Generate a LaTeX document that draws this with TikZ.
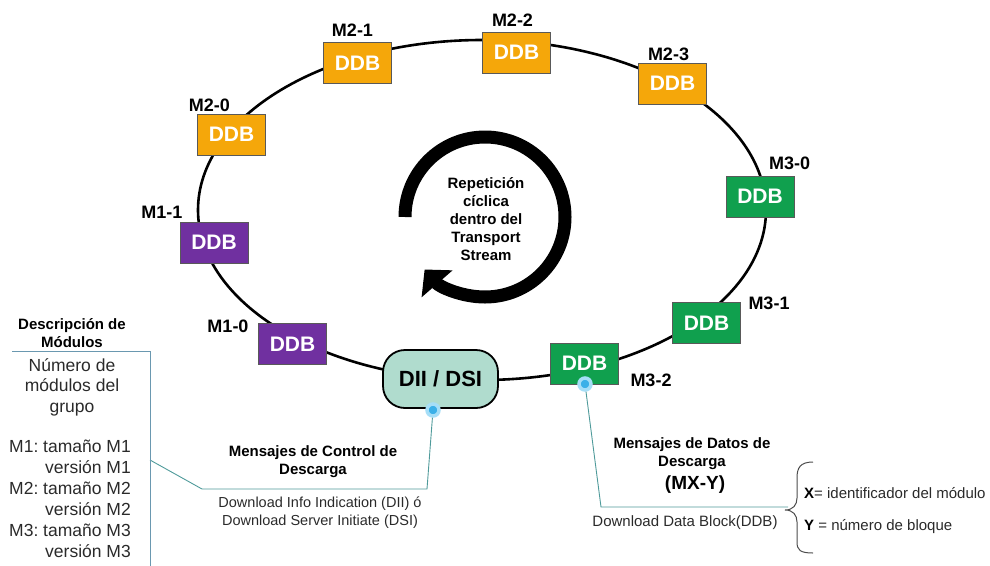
\documentclass[tikz,border=0pt]{standalone}
\usepackage{fontspec}
\setmainfont{Liberation Sans}
\usetikzlibrary{arrows.meta}
\definecolor{ddborange}{HTML}{F5A70A}
\definecolor{ddbpurple}{HTML}{7030A0}
\definecolor{ddbgreen}{HTML}{10A04E}
\definecolor{diifill}{HTML}{B0DCCE}
\definecolor{linkteal}{HTML}{4E9A9A}
\definecolor{panelline}{HTML}{6A98B0}
\definecolor{dotouter}{HTML}{A6DEF7}
\definecolor{dotinner}{HTML}{3BB0E8}
\definecolor{softtext}{HTML}{2A2A2A}
\begin{document}
\frenchspacing
\begin{tikzpicture}[x=1pt,y=-1pt,
  ddb/.style={draw=black!65, line width=0.8pt, minimum width=68pt, minimum height=41pt, inner sep=0pt, text=white, font=\fontsize{21}{24}\selectfont\bfseries},
  mlabel/.style={font=\fontsize{18}{20}\selectfont\bfseries, inner sep=0pt},
  boldcap/.style={font=\fontsize{15}{18}\selectfont\bfseries, align=center, inner sep=0pt},
  plain/.style={font=\fontsize{14.5}{18.5}\selectfont, text=softtext, align=center, inner sep=0pt},
  bluedot/.style={circle, draw=dotouter, line width=3.5pt, fill=dotinner, minimum size=12pt, inner sep=0pt},
  link/.style={draw=linkteal, line width=0.9pt},
  panel/.style={draw=panelline, line width=0.9pt}
]
\useasboundingbox (0,0) rectangle (990,565);
% cycle ring
\draw[line width=2.6pt] (482,210) ellipse [x radius=284, y radius=170];
% circular arrow
\draw[line width=13pt, -{Triangle[width=40pt,length=19pt]}] (405,217) arc[start angle=180, end angle=499, radius=80];
\node[boldcap] (rep) at (486,219) {Repetición\\cíclica\\dentro del\\Transport\\Stream};
% DDB boxes
\node[ddb, fill=ddborange] (m20) at (231.5,134.5) {DDB};
\node[ddb, fill=ddborange] (m21) at (357.5,63) {DDB};
\node[ddb, fill=ddborange] (m22) at (516.5,52.5) {DDB};
\node[ddb, fill=ddborange] (m23) at (672.5,83.5) {DDB};
\node[ddb, fill=ddbgreen] (m30) at (760,196.5) {DDB};
\node[ddb, fill=ddbgreen] (m31) at (706.5,323) {DDB};
\node[ddb, fill=ddbgreen] (m32) at (584.5,363.5) {DDB};
\node[ddb, fill=ddbpurple] (m11) at (214,242.5) {DDB};
\node[ddb, fill=ddbpurple] (m10) at (292.5,344) {DDB};
\node[draw=black, line width=1.8pt, fill=diifill, rounded corners=22pt, minimum width=115pt, minimum height=58pt, inner sep=0pt, font=\fontsize{22}{24}\selectfont\bfseries] (dii) at (440.5,379) {DII / DSI};
% labels
\node[mlabel] (l20) at (209.5,105) {M2-0};
\node[mlabel] (l21) at (352.5,30) {M2-1};
\node[mlabel] (l22) at (512.5,20) {M2-2};
\node[mlabel] (l23) at (668.5,54) {M2-3};
\node[mlabel] (l30) at (789.5,163) {M3-0};
\node[mlabel] (l31) at (769,303) {M3-1};
\node[mlabel] (l32) at (651,380) {M3-2};
\node[mlabel] (l11) at (162,212) {M1-1};
\node[mlabel] (l10) at (228,326) {M1-0};
% dots
\node[bluedot] (dotA) at (433,410) {};
\node[bluedot] (dotB) at (585,384) {};
% control messages connector
\coordinate (a1) at (427,489);
\coordinate (a2) at (202,489);
\coordinate (a3) at (150,460);
\draw[link] (dotA) -- (a1) -- (a2) -- (a3);
% module description panel
\coordinate (p0) at (12,351);
\coordinate (p1) at (150,351);
\coordinate (p2) at (150,566);
\draw[panel] (p0) -- (p1) -- (p2);
% data messages connector
\coordinate (b1) at (601,507);
\coordinate (b2) at (788,507);
\draw[link] (dotB) -- (b1) -- (b2);
% brace
\draw[line width=1pt, black!70] (813,462) .. controls (800,462) and (797,468) .. (797,478) -- (797,498) .. controls (797,505) and (793,510) .. (785,510) .. controls (793,510) and (797,515) .. (797,522) -- (797,542) .. controls (797,550) and (800,553) .. (813,553);
% texts
\node[boldcap] (desc) at (72,333.5) {Descripción de\\Módulos};
\node[font=\fontsize{17.5}{20.5}\selectfont, align=center, inner sep=0pt, text=softtext] (num) at (72,387) {Número de\\módulos del\\grupo};
\node[font=\fontsize{17.5}{21}\selectfont, align=right, inner sep=0pt, anchor=north east, text=softtext] (mods) at (131,440) {M1: tamaño M1\\versión M1\\M2: tamaño M2\\versión M2\\M3: tamaño M3\\versión M3};
\node[boldcap] (ctrl) at (313,462) {Mensajes de Control de\\Descarga};
\node[plain] (dlinfo) at (320,512.5) {Download Info Indication (DII) ó\\Download Server Initiate (DSI)};
\node[boldcap] (datos) at (692,454) {Mensajes de Datos de\\Descarga};
\node[font=\fontsize{19}{22}\selectfont\bfseries, inner sep=0pt] (mxy) at (695,485) {(MX-Y)};
\node[plain, font=\fontsize{15}{18}\selectfont] (ddbtxt) at (685,523) {Download Data Block(DDB)};
\node[plain, anchor=west, font=\fontsize{15}{18}\selectfont] (xdef) at (804,493) {\textbf{\color{black}X}= identificador del módulo};
\node[plain, anchor=west, font=\fontsize{15}{18}\selectfont] (ydef) at (804,527) {\textbf{\color{black}Y} = número de bloque};
\end{tikzpicture}
\end{document}
